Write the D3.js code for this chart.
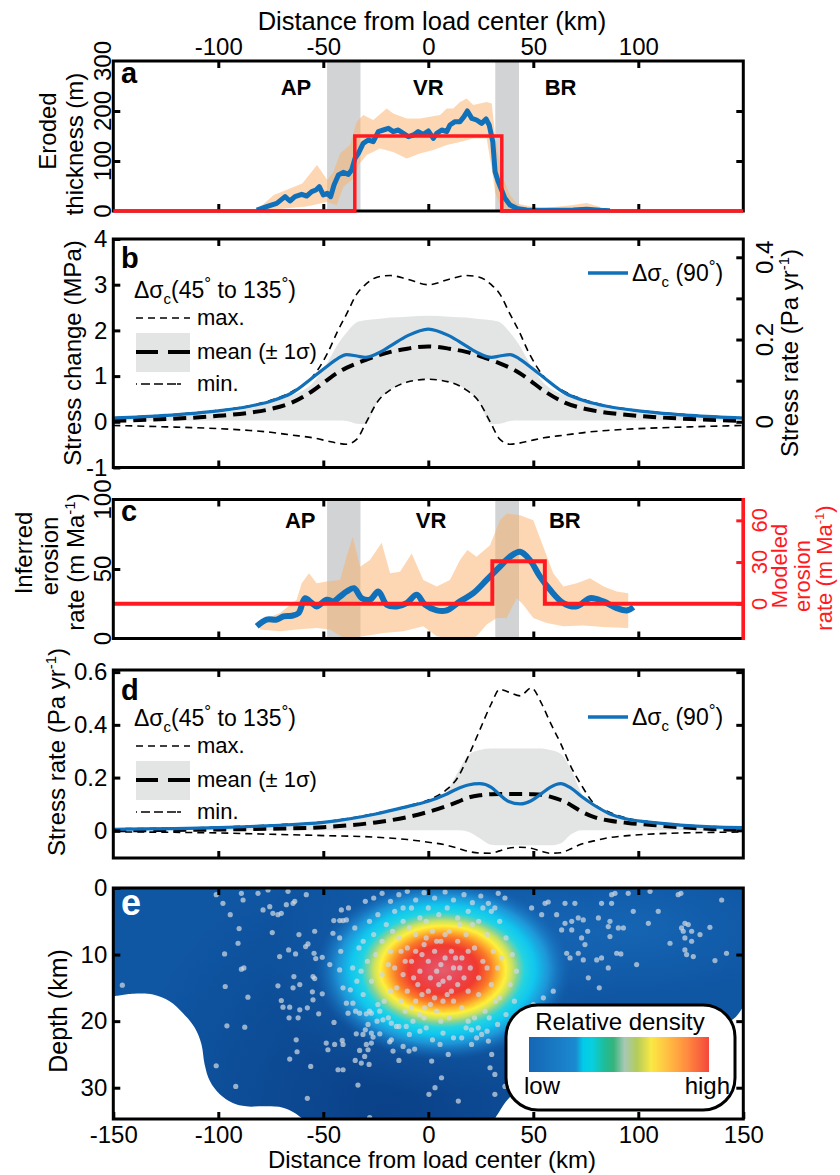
<!DOCTYPE html>
<html>
<head>
<meta charset="utf-8">
<script src="https://d3js.org/d3.v7.min.js"></script>
<style>
  body { margin: 0; background: #fff; }
  text { font-family: "Liberation Sans", Arial, sans-serif; }
</style>
</head>
<body>
<svg id="vis"></svg>
<script>
  // ---------- data ----------
  var xTickVals = [-150, -100, -50, 0, 50, 100, 150];
  var zones = [[-48.2, -32.3], [31.9, 43.2]];
  var regionNames = ['AP', 'VR', 'BR'];
  var regionPosA = [-63, 0, 63];
  var regionPosC = [-61, 1.3, 65];

  // a: eroded thickness (m)
  var aX = [-81.7,-77,-72.2,-68.2,-65.9,-63.5,-60.3,-57.9,-55.5,-53.5,-51.9,-50,-48.1,-46.5,-44.9,-42.8,-40.5,-38.1,-36.5,-34.9,-33.3,-31,-28.6,-26.2,-23.8,-21.4,-19,-16.7,-14.3,-11.9,-9.5,-7.1,-4.8,-2.4,0,2.4,4,6.4,8.8,10.3,12.7,15.1,17,18.6,20.7,23,25.4,27.5,29,30.7,31.8,33.3,34.9,36.5,38.9,42.1,46.9,53.2,61.1,69,75.4,81.8,86.5];
  var aThick = [2,8.7,15.3,28.7,20,28.7,33.3,30,38.7,42,48.7,32,35.3,28.7,52,72,77.3,73.3,82,105.3,115.3,135.3,142,138.7,158.7,162,165.3,158.7,162,155.3,148.7,152,158.7,153.3,160,145.3,155.3,162,158.7,172,178.7,178.7,188.7,200,185.3,182,175.3,184,172,138.7,78.7,58.7,42,25.3,12,5.3,2,1.3,1.3,2,3.3,1.3,0.7];
  var aBandUp = [[-81.7,2],[-73.6,32],[-65.9,45],[-60,55],[-53,92],[-48.1,62],[-45.2,78],[-42,115],[-37.3,132],[-34.1,178],[-31,192],[-26.2,182],[-19.8,205],[-16.7,195],[-10.3,185],[-4,185],[5.6,192],[8.8,205],[11.9,205],[15.1,218],[18.3,225],[21.4,212],[27.8,218],[30.2,215],[31.8,152],[33.3,112],[35.7,65],[38.9,32],[42.1,15],[53.2,5],[69,12],[75.4,16],[81.8,8],[86.5,2]];
  var aBandLo = [[-81.7,0],[-57.9,9],[-48.4,18],[-43.6,12],[-40.5,48],[-35.7,65],[-33.3,92],[-29.3,112],[-23,125],[-16.7,118],[-10.3,105],[-4,115],[2.4,122],[8.8,132],[15.1,138],[21.4,145],[27.8,145],[30.2,85],[31.8,38],[34.1,12],[37.3,2],[86.5,0]];
  var aModelX = [-150, -35, -35, 35, 35, 150];
  var aModel = [0, 0, 150, 150, 0, 0];

  // b: stress change (MPa)
  var bX = [-150,-125,-100,-85,-75,-65,-55,-48,-43,-39,-34,-30,-24,-18,-10,0,10,18,24,30,34,39,43,48,55,65,75,85,100,125,150];
  var bBlue = [0.08,0.14,0.24,0.34,0.45,0.63,0.97,1.22,1.39,1.47,1.44,1.41,1.5,1.66,1.88,2.03,1.88,1.66,1.5,1.41,1.44,1.47,1.39,1.22,0.97,0.63,0.45,0.34,0.24,0.14,0.08];
  var bMean = [0.02,0.06,0.13,0.2,0.28,0.42,0.68,0.92,1.08,1.18,1.28,1.35,1.45,1.53,1.6,1.65,1.6,1.53,1.45,1.35,1.28,1.18,1.08,0.92,0.68,0.42,0.28,0.2,0.13,0.06,0.02];
  var bMax = [0.09,0.15,0.25,0.35,0.47,0.66,0.99,1.5,2.0,2.35,2.8,3.0,3.17,3.2,3.12,3.0,3.12,3.2,3.17,3.0,2.8,2.35,2.0,1.5,0.99,0.66,0.47,0.35,0.25,0.15,0.09];
  var bMin = [-0.08,-0.11,-0.15,-0.19,-0.23,-0.29,-0.35,-0.42,-0.47,-0.49,-0.38,-0.05,0.45,0.7,0.87,0.93,0.87,0.7,0.45,-0.05,-0.38,-0.49,-0.47,-0.42,-0.35,-0.29,-0.23,-0.19,-0.15,-0.11,-0.08];
  var bHi = [0.05,0.12,0.2,0.3,0.42,0.58,0.85,1.3,1.7,1.95,2.18,2.22,2.25,2.28,2.3,2.32,2.3,2.28,2.25,2.22,2.18,1.95,1.7,1.3,0.85,0.58,0.42,0.3,0.2,0.12,0.05];
  var bLo = [0.03,0.03,0.03,0.03,0.03,0.03,0.03,0.03,0.03,0.02,-0.04,-0.05,0.45,0.7,0.87,0.93,0.87,0.7,0.45,-0.05,-0.04,0.02,0.03,0.03,0.03,0.03,0.03,0.03,0.03,0.03,0.03];

  // c: inferred erosion rate (m/Ma) and modeled rate
  var cX = [-81.7,-77,-72.2,-69,-65,-61.8,-58.7,-55.5,-53.2,-48.4,-45.2,-42,-38.9,-35.4,-31.7,-27.8,-23.8,-19.8,-15,-10.3,-5.5,-1.6,4,8.8,15.1,21.4,27.8,34.1,38.9,43.7,48.4,53.2,58,64.3,70.7,77,83.3,89.7,94.5,97.7];
  var cRate = [8.8,13.6,13.6,15.9,16.4,18.3,29,25.5,23.1,27.9,26.7,30.2,33.8,36.2,29,27.9,33.8,24.3,23.1,25.5,31.4,24.3,20.2,20.2,26.7,32.6,42.1,51.7,58.8,62.4,56.4,44.5,35,25.5,23.1,29,26.7,21.9,20.2,22.6];
  var cBandUp = [[-80.2,12.4],[-70.6,18.3],[-62.7,27.9],[-60.3,39.8],[-56.8,46.9],[-53.2,39.8],[-48.4,41],[-42,42],[-38.9,58.8],[-36,73],[-32.5,51.7],[-27.8,56.4],[-22.2,68.8],[-18.2,46.9],[-13.5,48],[-7.9,61.2],[-2.4,42],[4,37.4],[10.3,42],[15.1,56.4],[18.6,63.6],[23,58.8],[29.4,67.1],[34.1,85],[37.3,89.8],[43.7,88.6],[50,85],[54.8,65.9],[59.5,46.9],[64.3,37.4],[70.7,39.8],[77,43.3],[83.5,37.4],[89.7,33.8],[95.2,32.6]];
  var cBandLo = [[-80.2,6.4],[-70.6,5.2],[-62.7,6.4],[-53.2,7.6],[-46.8,6.4],[-40.5,0.5],[-31,1.7],[-21.4,4],[-11.9,5.2],[-2.4,8.8],[4,1.7],[10.3,0],[19.9,0],[23,1.7],[27.8,10],[32.6,14.8],[37.3,14.8],[42.1,29],[45.2,24.3],[50,14.8],[56.4,11.2],[64.3,8.8],[73.8,9.3],[83.3,8.3],[95.2,7.6]];
  var cModelX = [-150, 30.5, 30.5, 55.5, 55.5, 150];
  var cModel = [0, 0, 30.5, 30.5, 0, 0];

  // d: stress rate (Pa/yr)
  var dX = [-150,-100,-75,-50,-25,-10,0,8,14,19,24.5,30,34,38,43.8,49,54,58,63,68,73,79,86,95,104,120,135,150];
  var dBlue = [0.004,0.01,0.018,0.03,0.062,0.09,0.11,0.135,0.158,0.172,0.177,0.163,0.135,0.11,0.1,0.112,0.14,0.163,0.177,0.16,0.128,0.095,0.064,0.042,0.032,0.02,0.013,0.01];
  var dMean = [0,0.003,0.006,0.012,0.03,0.05,0.07,0.09,0.108,0.124,0.133,0.137,0.138,0.138,0.138,0.137,0.135,0.128,0.115,0.095,0.071,0.05,0.037,0.028,0.022,0.012,0.005,0.002];
  var dMax = [0.006,0.012,0.02,0.032,0.064,0.092,0.115,0.15,0.2,0.28,0.38,0.48,0.535,0.525,0.51,0.54,0.48,0.41,0.33,0.24,0.17,0.1,0.07,0.045,0.034,0.021,0.014,0.011];
  var dMin = [-0.006,-0.01,-0.015,-0.02,-0.026,-0.035,-0.045,-0.055,-0.068,-0.08,-0.086,-0.087,-0.078,-0.068,-0.064,-0.068,-0.08,-0.087,-0.085,-0.07,-0.052,-0.04,-0.028,-0.02,-0.015,-0.01,-0.008,-0.006];
  var dHi = [0.004,0.01,0.018,0.03,0.06,0.088,0.105,0.14,0.22,0.285,0.305,0.31,0.31,0.31,0.31,0.31,0.31,0.305,0.29,0.23,0.14,0.09,0.06,0.04,0.03,0.018,0.012,0.008];
  var dLo = [0,0,0,0,0,0,0,0,0,-0.005,-0.03,-0.055,-0.057,-0.057,-0.057,-0.057,-0.057,-0.057,-0.05,-0.015,0,0,0,0,0,0,0,0];

  // e: earthquakes (km, depth km) and density peak
  var eDots = [[-101,1],[-97.8,2.3],[-89,0.8],[-88.2,1.8],[-81.1,0.8],[-76.3,0.3],[-75.5,2.8],[-78.7,3.3],[-74,3.8],[-71.6,4],[-70,3.8],[-66.8,0.5],[-67.6,2.5],[-64.4,2.3],[-63.6,2],[-58.1,1],[-94.3,4],[-90.1,6.1],[-90.6,8.3],[-97,9.9],[-89,12.2],[-87.8,12],[-74.3,6.7],[-70.8,10.3],[-66.5,9.3],[-63.2,9.9],[-61.6,7],[-58.4,8.8],[-57.3,8.4],[-54.1,6.5],[-53.6,10.6],[-54.4,9.8],[-64,13.3],[-71.6,14.7],[-64.4,15],[-61.2,14.5],[-54.9,13.3],[-54.1,13.6],[-55.2,15.6],[-50.5,15.9],[-54.9,16.8],[-57.6,18],[-61.2,18.3],[-66,17.9],[-69.2,17.9],[-70,16.9],[-85.9,16.4],[-96.7,14.8],[-145.7,14.6],[-66.3,19.5],[-62,19.5],[-52.2,18.9],[-95.9,20.7],[-87.4,20.9],[-62.9,22.8],[-62.5,24.6],[-66,25.7],[-101,26.7],[-91.7,29.8],[-57.6,31.6],[-56,26.8],[-48.6,23.3],[-47.8,24.3],[-44.6,23.5],[-41,22.9],[-40.6,23.5],[-44.9,20.2],[-43,27.3],[-40.6,27.3],[-34.8,25.9],[-31.9,26.3],[-28.2,26.5],[-33.5,29.6],[-34.3,21.9],[-31.1,22],[-30,21.3],[-27.1,21.8],[-29.5,23.5],[-27.1,23.3],[-26.3,22.4],[-32.7,24.4],[-28.7,24.3],[-30.3,25.3],[-23.1,21.9],[-17.6,22.8],[-18.4,23.1],[-16.8,24.5],[-14,25.9],[-12,23.8],[-9.2,24.5],[-6.5,24.2],[-27.9,34.5],[0.3,31],[-42.2,4.9],[-45,4.9],[-41.4,3.3],[-40.6,4.9],[-39,4.8],[-45.4,6.8],[-42.2,7.5],[-50.5,10.4],[-41.7,9.5],[-46.9,11.5],[-42.2,12.3],[-40.6,15],[-37.1,15.3],[-39,17.3],[-35.9,17.3],[-34.6,18.5],[-32.7,18.8],[-29.5,18.9],[-27.1,18.8],[-23.1,18.5],[-21.6,19.8],[-17.6,20.3],[-15.2,20.8],[-10.5,20.8],[-7.3,20],[-4.1,19],[-1.7,18],[-24.4,20],[-28.7,20.5],[-38.2,18.8],
    [49.2,3],[55.6,2.3],[57.1,2.1],[54,4],[61.1,4],[65.1,2.3],[69.8,2.3],[65.1,5.3],[68.3,5],[71.4,4.5],[73.8,4.8],[63.5,6.3],[68.3,6.3],[73,7.5],[74.6,8.5],[75.9,6.5],[81,4.5],[82.5,2.3],[86.5,5],[87.3,2.3],[85.7,5.8],[86.5,7.3],[90.5,6],[92.9,6],[95.2,0.8],[97.6,3.5],[104.8,5.3],[105.6,0.5],[109.5,3.5],[115.1,8.3],[119,1],[120.3,0.8],[122.2,5.3],[123.8,5.5],[121.4,6.5],[120.6,6],[125.4,6.5],[122.2,7.5],[125.4,8],[122.2,9.3],[123,10],[126.2,10.3],[129.4,7],[134.1,5.9],[139.7,1.8],[142,9.8],[136.5,10.9],[65.9,9.8],[67.5,10.5],[71.4,9.8],[73.8,10.8],[80.2,10.8],[82.5,10.5],[85.7,12],[89.7,9.8],[91.7,9.9],[99.2,11.5],[76.2,13.5],[81.4,15],[59.5,15.5],[54.8,16.5],[50,17.5],[88.9,0.8],[87.3,1],[33.3,0.8],[28.6,2.3],[31.7,3],[36.5,1.5],[15.9,22.5],[20.6,23.5],[28.6,23],[30.2,25],[9.5,25],[5.6,23.5],[3.2,30],[14.3,32],[1.6,26],[6.3,28.5],[23.8,21],[25.4,22],[20.6,21.3],[29.4,27],[31.7,28],[36.5,29.8],[31.7,31],
    [-38,3],[-35,6],[-33,9],[-36,12],[-34,14],[-31,16],[-28,5],[-30,2],[-26,1.5],[-22,0.8],[-18,2],[-14,1],[-10,0.5],[-6,1.8],[-2,0.7],[3,1.5],[8,0.6],[12,1.8],[17,1],[21,2.2],[25,1.2],[30,3.5],[34,5],[37,7.5],[40,10],[42,12.5],[39,14.5],[41,17],[37,19],[33,20.5],[28,21.5],[23,22.5],[18,21],[12,22.5],[7,21.8],[2,22.8],[-4,21.5],[-9,22],[-14,20.8],[-19,19.5],[-24,17.5],[-27,14],[-29,11],[-31,8],[-24,4],[-20,5.5],[-16,3.5],[-12,5],[-8,3],[-4,4.5],[0,3],[5,4],[9,3],[14,4.5],[19,3.5],[24,5],[28,7],[31,9.5],[33,12],[30,14.5],[32,17],[27,18.5],[22,19.5],[16,18],[10,19.5],[4,18.5],[-2,19.5],[-8,18],[-13,17],[-18,15.5],[-22,13],[-25,10],[-22,8],[-18,9.5],[-14,7.5],[-10,9],[-6,7],[-2,8.5],[2,6.5],[6,8],[10,6.5],[14,8],[18,7],[22,9],[26,11],[24,13.5],[20,12],[16,10.5],[12,12],[8,10.5],[4,12.5],[0,11],[-4,12.5],[-8,11],[-12,13],[-16,12],[-19,11.5],[-15,15],[-10,15.5],[-5,14.5],[0,15.5],[5,14.5],[9,16],[14,14.5],[19,15.5],[24,16],[28,12],[-26,7],[-21,17],[-6,17],[1,17.5],[7,17],[12,17],[17,13.5],[21,5.5],[-1,5],[3,9.5],[-9,6],[11,9.5],[15,5.5],[-17,6.5],[-11,18.5],[6,20],[19,20],[-1,21],[-12,3],[26,3],[29,19.5],[35,10.5],[34,16.5],[-32,12.5],[-28,18.5],
    [-3,10],[1,13.5],[6,11.5],[10,13.5],[13,10.5],[-6,9.5],[-1,7.5],[8,7],[3,16.5],[-11,11],[15,12],[-7,13.5],[19,9.5],[-13,9.5],[11,15.5],[-3,16],[4,8],[7,14]];
  var eCutLeft = [[-150,16.3],[-140.6,15.9],[-131.1,16],[-123.2,17],[-116.8,18.8],[-111.2,21],[-108,23.5],[-106.5,26.5],[-104,29],[-99.3,31],[-93.1,32.3],[-86.7,32.8],[-77.2,32.8],[-69.2,33],[-63.6,33.8],[-59.7,34.7]];
  var eCutRight = [[31.6,34.7],[34,33.5],[37.2,32],[42,30.6],[55,28.5],[90,25],[120,22.5],[140,20.5],[146,19.5],[150,17.8]];
  var peakX = 7, peakDepth = 12.3;
  var densityStops = [[0,'#1466b4'],[0.26,'#1c8ad0'],[0.3,'#00cbe9'],[0.35,'#08cfe0'],[0.42,'#20bc98'],[0.47,'#36b47a'],[0.53,'#a6c8b6'],[0.6,'#b4cc5a'],[0.68,'#fbe845'],[0.77,'#ffbf42'],[0.88,'#ff8a40'],[1,'#f4483a']];

  // ---------- layout ----------
  var svg = d3.select('#vis').attr('width', 840).attr('height', 1175);
  var defs = svg.append('defs');
  var FONT = '"Liberation Sans", Arial, sans-serif';
  var BLUE = '#1170ba', RED = '#ff1a22', ORANGE = 'rgb(251,176,104)', ZONE = '#d1d3d4', SIG = '#e3e4e4';
  var X0 = 113.3, X1 = 743.3;
  var x = d3.scaleLinear().domain([-150, 150]).range([X0, X1]);

  var ya = d3.scaleLinear().domain([0, 300]).range([211, 61]);
  var yb = d3.scaleLinear().domain([-1, 4]).range([467.5, 239]);
  var ybR = d3.scaleLinear().domain([-1 / 9, 4 / 9]).range([467.5, 239]);
  var yc = d3.scaleLinear().domain([0, 100]).range([638.5, 499.5]);
  var ycR = d3.scaleLinear().domain([-25, 75]).range([638.5, 499.5]);
  var yd = d3.scaleLinear().domain([-0.105, 0.608]).range([858, 670]);
  var ye = d3.scaleLinear().domain([0, 34.7]).range([888, 1119]);

  function yTop(y) { return d3.min(y.range()); }
  function yBot(y) { return d3.max(y.range()); }
  function clip(id, y) {
    defs.append('clipPath').attr('id', id).append('rect')
      .attr('x', X0).attr('y', yTop(y)).attr('width', X1 - X0).attr('height', yBot(y) - yTop(y));
  }
  function frame(y) {
    svg.append('rect').attr('x', X0).attr('y', yTop(y))
      .attr('width', X1 - X0).attr('height', yBot(y) - yTop(y))
      .attr('fill', 'none').attr('stroke', '#000').attr('stroke-width', 3);
  }
  function axis(gen, tx, ty, color) {
    var g = svg.append('g').attr('transform', 'translate(' + tx + ',' + ty + ')').call(gen);
    g.attr('font-size', 24).attr('font-family', FONT);
    g.select('.domain').remove();
    g.selectAll('line').attr('stroke', color || '#000').attr('stroke-width', 3);
    g.selectAll('text').attr('fill', '#000');
    return g;
  }
  function xTicks(y) {
    var v = [-100, -50, 0, 50, 100];
    axis(d3.axisTop(x).tickValues(v).tickSize(-7).tickFormat(''), 0, yTop(y));
    axis(d3.axisBottom(x).tickValues(v).tickSize(-7).tickFormat(''), 0, yBot(y));
  }
  function rich(t, parts) {
    parts.forEach(function(p) {
      var s = t.append('tspan').text(p[0]);
      if (p[1]) s.attr('dy', p[1]);
      if (p[2]) s.attr('font-size', p[2]);
    });
    return t;
  }
  function vText(parts, cx, cy, size, color) {
    var t = svg.append('text')
      .attr('transform', 'translate(' + cx + ',' + cy + ') rotate(-90)')
      .attr('text-anchor', 'middle').attr('dy', '0.35em')
      .attr('font-size', size).attr('fill', color || '#000');
    return rich(t, parts);
  }
  function hText(parts, px, py, size, opts) {
    opts = opts || {};
    var t = svg.append('text').attr('x', px).attr('y', py).attr('font-size', size)
      .attr('text-anchor', opts.anchor || 'start').attr('fill', opts.color || '#000')
      .attr('font-weight', opts.bold ? 'bold' : 'normal');
    return rich(t, parts);
  }
  function rotLabels(vals, y, px, color, fmt, size) {
    vals.forEach(function(v) {
      vText([[fmt ? fmt(v) : String(v)]], px, y(v), size || 24, color);
    });
  }
  function band(up, lo, y) {
    var pts = up.concat(lo.slice().reverse());
    return d3.line().x(function(d) { return x(d[0]); }).y(function(d) { return y(d[1]); })(pts) + 'Z';
  }
  function zoneRects(g, y) {
    g.selectAll('rect.zone').data(zones).enter().append('rect').attr('class', 'zone')
      .attr('x', function(d) { return x(d[0]); }).attr('width', function(d) { return x(d[1]) - x(d[0]); })
      .attr('y', yTop(y)).attr('height', yBot(y) - yTop(y)).attr('fill', ZONE);
  }
  function curve(xs, vals, y) {
    return d3.line().x(function(d, i) { return x(xs[i]); }).y(function(d) { return y(d); })
      .curve(d3.curveMonotoneX)(vals);
  }
  function sigmaArea(xs, lo, hi, y) {
    return d3.area().x(function(d, i) { return x(xs[i]); })
      .y0(function(d, i) { return y(lo[i]); }).y1(function(d, i) { return y(hi[i]); })
      .curve(d3.curveMonotoneX)(xs);
  }
  var dashThin = '7,5', dashThick = '13,7';

  // ---------- top axis title ----------
  hText([['Distance from load center (km)']], 432, 30, 25.5, { anchor: 'middle' });

  // ---------- panel a ----------
  clip('clipA', ya);
  var ga = svg.append('g').attr('clip-path', 'url(#clipA)');
  zoneRects(ga, ya);
  ga.append('path').attr('d', band(aBandUp, aBandLo, ya)).attr('fill', ORANGE).attr('fill-opacity', 0.5);
  ga.append('path').attr('d', d3.line().x(function(d, i) { return x(aX[i]); }).y(function(d) { return ya(d); })(aThick))
    .attr('fill', 'none').attr('stroke', BLUE).attr('stroke-width', 5).attr('stroke-linejoin', 'round');
  frame(ya);
  xTicks(ya);
  axis(d3.axisTop(x).tickValues([-100, -50, 0, 50, 100]).tickSize(0).tickPadding(6).tickFormat(function(d) { return String(d); }), 0, 61);
  axis(d3.axisLeft(ya).tickValues([100, 200]).tickSize(-7).tickFormat(''), X0, 0);
  axis(d3.axisRight(ya).tickValues([100, 200]).tickSize(-7).tickFormat(''), X1, 0);
  rotLabels([0, 100, 200, 300], ya, 102.5);
  svg.append('path').attr('d', d3.line().x(function(d, i) { return x(aModelX[i]); }).y(function(d) { return ya(d); })(aModel))
    .attr('fill', 'none').attr('stroke', RED).attr('stroke-width', 3.5);
  regionNames.forEach(function(n, i) { hText([[n]], x(regionPosA[i]), 95, 22, { anchor: 'middle', bold: true }); });
  hText([['a']], 121, 83, 29, { bold: true });
  vText([['Eroded']], 48, 131, 24);
  vText([['thickness (m)']], 75, 144, 24);

  // ---------- panel b ----------
  clip('clipB', yb);
  var gb = svg.append('g').attr('clip-path', 'url(#clipB)');
  gb.append('path').attr('d', sigmaArea(bX, bLo, bHi, yb)).attr('fill', SIG);
  gb.append('path').attr('d', curve(bX, bMax, yb)).attr('fill', 'none').attr('stroke', '#000').attr('stroke-width', 1.6).attr('stroke-dasharray', dashThin);
  gb.append('path').attr('d', curve(bX, bMin, yb)).attr('fill', 'none').attr('stroke', '#000').attr('stroke-width', 1.6).attr('stroke-dasharray', dashThin);
  gb.append('path').attr('d', curve(bX, bMean, yb)).attr('fill', 'none').attr('stroke', '#000').attr('stroke-width', 4).attr('stroke-dasharray', dashThick);
  gb.append('path').attr('d', curve(bX, bBlue, yb)).attr('fill', 'none').attr('stroke', BLUE).attr('stroke-width', 3.2);
  frame(yb);
  xTicks(yb);
  axis(d3.axisLeft(yb).tickValues([-1, 0, 1, 2, 3, 4]).tickSize(-7).tickPadding(6).tickFormat(function(d) { return String(d); }), X0, 0);
  axis(d3.axisRight(ybR).tickValues([0, 0.1, 0.2, 0.3, 0.4]).tickSize(-7).tickFormat(''), X1, 0);
  rotLabels([0, 0.2, 0.4], ybR, 765, '#000', function(v) { return v === 0 ? '0' : v.toFixed(1); });
  hText([['b']], 121, 268, 29, { bold: true });
  vText([['Stress change (MPa)']], 73, 353, 24);
  vText([['Stress rate (Pa yr'], ['-1', -9, 15], [')', 9]], 790, 353, 24);

  function legend(ty, blueY) {
    hText([['Δσ'], ['c', 6, 15], ['(45', -6], ['°', -9, 17], [' to 135', 9], ['°', -9, 17], [')', 9]], 134, ty + 8, 23);
    svg.append('line').attr('x1', 136).attr('x2', 190).attr('y1', ty + 28).attr('y2', ty + 28)
      .attr('stroke', '#000').attr('stroke-width', 1.6).attr('stroke-dasharray', dashThin);
    hText([['max.']], 197, ty + 35, 22);
    svg.append('rect').attr('x', 136).attr('y', ty + 43).attr('width', 54).attr('height', 39).attr('fill', SIG);
    svg.append('line').attr('x1', 136).attr('x2', 190).attr('y1', ty + 62).attr('y2', ty + 62)
      .attr('stroke', '#000').attr('stroke-width', 4).attr('stroke-dasharray', '22,10');
    hText([['mean (± 1σ)']], 197, ty + 69, 22);
    svg.append('line').attr('x1', 136).attr('x2', 190).attr('y1', ty + 94).attr('y2', ty + 94)
      .attr('stroke', '#000').attr('stroke-width', 1.6).attr('stroke-dasharray', '1,4,9,4,9,4,9');
    hText([['min.']], 197, ty + 101, 22);
    svg.append('line').attr('x1', 588).attr('x2', 628).attr('y1', blueY).attr('y2', blueY)
      .attr('stroke', BLUE).attr('stroke-width', 3.5);
    hText([['Δσ'], ['c', 6, 15], [' (90', -6], ['°', -9, 17], [')', 9]], 632, blueY + 8, 23);
  }
  legend(290, 273);

  // ---------- panel c ----------
  clip('clipC', yc);
  var gc = svg.append('g').attr('clip-path', 'url(#clipC)');
  zoneRects(gc, yc);
  gc.append('path').attr('d', band(cBandUp, cBandLo, yc)).attr('fill', ORANGE).attr('fill-opacity', 0.5);
  gc.append('path').attr('d', d3.line().x(function(d, i) { return x(cX[i]); }).y(function(d) { return yc(d); }).curve(d3.curveCatmullRom)(cRate))
    .attr('fill', 'none').attr('stroke', BLUE).attr('stroke-width', 6).attr('stroke-linejoin', 'round');
  gc.append('path').attr('d', d3.line().x(function(d, i) { return x(cModelX[i]); }).y(function(d) { return ycR(d); })(cModel))
    .attr('fill', 'none').attr('stroke', RED).attr('stroke-width', 4);
  frame(yc);
  svg.append('line').attr('x1', X1).attr('x2', X1).attr('y1', 498).attr('y2', 640).attr('stroke', RED).attr('stroke-width', 3.5);
  xTicks(yc);
  axis(d3.axisLeft(yc).tickValues([50]).tickSize(-7).tickFormat(''), X0, 0);
  axis(d3.axisRight(ycR).tickValues([0, 30, 60]).tickSize(-7).tickFormat(''), X1, 0, RED);
  rotLabels([0, 50, 100], yc, 102.5);
  rotLabels([0, 30, 60], ycR, 759, RED, null, 22);
  regionNames.forEach(function(n, i) { hText([[n]], x(regionPosC[i]), 528, 22, { anchor: 'middle', bold: true }); });
  hText([['c']], 121, 521, 29, { bold: true });
  vText([['Inferred']], 24, 553, 24);
  vText([['erosion']], 50, 556, 24);
  vText([['rate (m Ma'], ['-1', -9, 15], [')', 9]], 76, 562, 24);
  vText([['Modeled']], 779, 566, 22, RED);
  vText([['erosion']], 802, 576, 22, RED);
  vText([['rate (m Ma'], ['-1', -8, 13], [')', 8]], 824, 568, 22, RED);

  // ---------- panel d ----------
  clip('clipD', yd);
  var gd = svg.append('g').attr('clip-path', 'url(#clipD)');
  gd.append('path').attr('d', sigmaArea(dX, dLo, dHi, yd)).attr('fill', SIG);
  gd.append('path').attr('d', curve(dX, dMax, yd)).attr('fill', 'none').attr('stroke', '#000').attr('stroke-width', 1.6).attr('stroke-dasharray', dashThin);
  gd.append('path').attr('d', curve(dX, dMin, yd)).attr('fill', 'none').attr('stroke', '#000').attr('stroke-width', 1.6).attr('stroke-dasharray', dashThin);
  gd.append('path').attr('d', curve(dX, dMean, yd)).attr('fill', 'none').attr('stroke', '#000').attr('stroke-width', 4).attr('stroke-dasharray', dashThick);
  gd.append('path').attr('d', curve(dX, dBlue, yd)).attr('fill', 'none').attr('stroke', BLUE).attr('stroke-width', 3.2);
  frame(yd);
  xTicks(yd);
  var dFmt = function(d) { return d === 0 ? '0' : d.toFixed(1); };
  axis(d3.axisLeft(yd).tickValues([0, 0.2, 0.4, 0.6]).tickSize(-7).tickPadding(6).tickFormat(dFmt), X0, 0);
  axis(d3.axisRight(yd).tickValues([0, 0.2, 0.4, 0.6]).tickSize(-7).tickFormat(''), X1, 0);
  hText([['d']], 121, 700, 29, { bold: true });
  vText([['Stress rate (Pa yr'], ['-1', -9, 15], [')', 9]], 57, 752, 24);
  legend(718, 717);

  // ---------- panel e ----------
  clip('clipE', ye);
  var shade = defs.append('radialGradient').attr('id', 'eShade').attr('gradientUnits', 'userSpaceOnUse')
    .attr('cx', x(-20)).attr('cy', ye(34)).attr('r', 260);
  shade.append('stop').attr('offset', 0).attr('stop-color', '#062f70').attr('stop-opacity', 0.55);
  shade.append('stop').attr('offset', 1).attr('stop-color', '#062f70').attr('stop-opacity', 0);
  var halo = defs.append('radialGradient').attr('id', 'eHalo');
  halo.append('stop').attr('offset', 0).attr('stop-color', '#1d78c8').attr('stop-opacity', 0.8);
  halo.append('stop').attr('offset', 1).attr('stop-color', '#1d78c8').attr('stop-opacity', 0);
  var blob = defs.append('radialGradient').attr('id', 'eBlob');
  [[0, '#e35e6e', 1], [0.14, '#ea4654', 1], [0.27, '#f13a30', 1], [0.37, '#fa7a28', 1], [0.44, '#ffc030', 1],
   [0.49, '#fff03a', 1], [0.54, '#cde25e', 1], [0.59, '#78d2a2', 1], [0.64, '#22d4e2', 1], [0.72, '#10c6ee', 1],
   [0.82, '#20a0e0', 0.85], [0.92, '#1a7cc8', 0.45], [1, '#1466b4', 0]].forEach(function(s) {
    blob.append('stop').attr('offset', s[0]).attr('stop-color', s[1]).attr('stop-opacity', s[2]);
  });

  var ge = svg.append('g').attr('clip-path', 'url(#clipE)');
  ge.append('rect').attr('x', X0).attr('y', 888).attr('width', X1 - X0).attr('height', 231).attr('fill', '#0f56a3');
  ge.append('rect').attr('x', X0).attr('y', 888).attr('width', X1 - X0).attr('height', 231).attr('fill', 'url(#eShade)');
  ge.append('ellipse').attr('cx', x(95)).attr('cy', ye(6)).attr('rx', 170).attr('ry', 70).attr('fill', 'url(#eHalo)').attr('opacity', 0.55);
  ge.append('ellipse').attr('cx', x(peakX)).attr('cy', ye(peakDepth)).attr('rx', 175).attr('ry', 125).attr('fill', 'url(#eHalo)').attr('opacity', 0.7);
  ge.append('ellipse').attr('cx', x(peakX)).attr('cy', ye(peakDepth)).attr('rx', 128).attr('ry', 90).attr('fill', 'url(#eBlob)');
  ge.selectAll('circle').data(eDots).enter().append('circle')
    .attr('cx', function(d) { return x(d[0]); }).attr('cy', function(d) { return ye(d[1]); })
    .attr('r', 2.6).attr('fill', '#cfd8e0').attr('fill-opacity', 0.72);
  var cutLine = d3.line().x(function(d) { return x(d[0]); }).y(function(d) { return ye(d[1]); }).curve(d3.curveCatmullRom);
  ge.append('path').attr('d', cutLine(eCutLeft) + 'L' + x(-58) + ',1125L' + (X0 - 5) + ',1125L' + (X0 - 5) + ',' + ye(16.3) + 'Z').attr('fill', '#fff');
  ge.append('path').attr('d', cutLine(eCutRight) + 'L' + (X1 + 5) + ',' + ye(17.8) + 'L' + (X1 + 5) + ',1125L' + x(31.6) + ',1125Z').attr('fill', '#fff');

  frame(ye);
  axis(d3.axisTop(x).tickValues([-100, -50, 0, 50, 100]).tickSize(-7).tickFormat(''), 0, 888);
  axis(d3.axisBottom(x).tickValues(xTickVals).tickSize(-7).tickPadding(7).tickFormat(function(d) { return String(d); }), 0, 1119);
  axis(d3.axisLeft(ye).tickValues([0, 10, 20, 30]).tickSize(-7).tickPadding(6).tickFormat(function(d) { return String(d); }), X0, 0);
  axis(d3.axisRight(ye).tickValues([10, 20, 30]).tickSize(-7).tickFormat(''), X1, 0);

  // legend box
  var cb = defs.append('linearGradient').attr('id', 'cbar');
  densityStops.forEach(function(s) { cb.append('stop').attr('offset', s[0]).attr('stop-color', s[1]); });
  svg.append('rect').attr('x', 506).attr('y', 1005).attr('width', 229).attr('height', 105).attr('rx', 32)
    .attr('fill', '#fff').attr('stroke', '#000').attr('stroke-width', 3);
  hText([['Relative density']], 620, 1030, 24, { anchor: 'middle' });
  svg.append('rect').attr('x', 529).attr('y', 1037).attr('width', 180).attr('height', 35).attr('fill', 'url(#cbar)');
  hText([['low']], 524, 1094, 24);
  hText([['high']], 730, 1094, 24, { anchor: 'end' });

  hText([['e']], 121, 915, 36, { bold: true, color: '#fff' });
  vText([['Depth (km)']], 58, 1011, 25);
  hText([['Distance from load center (km)']], 432, 1168, 24, { anchor: 'middle' });
</script>
</body>
</html>
